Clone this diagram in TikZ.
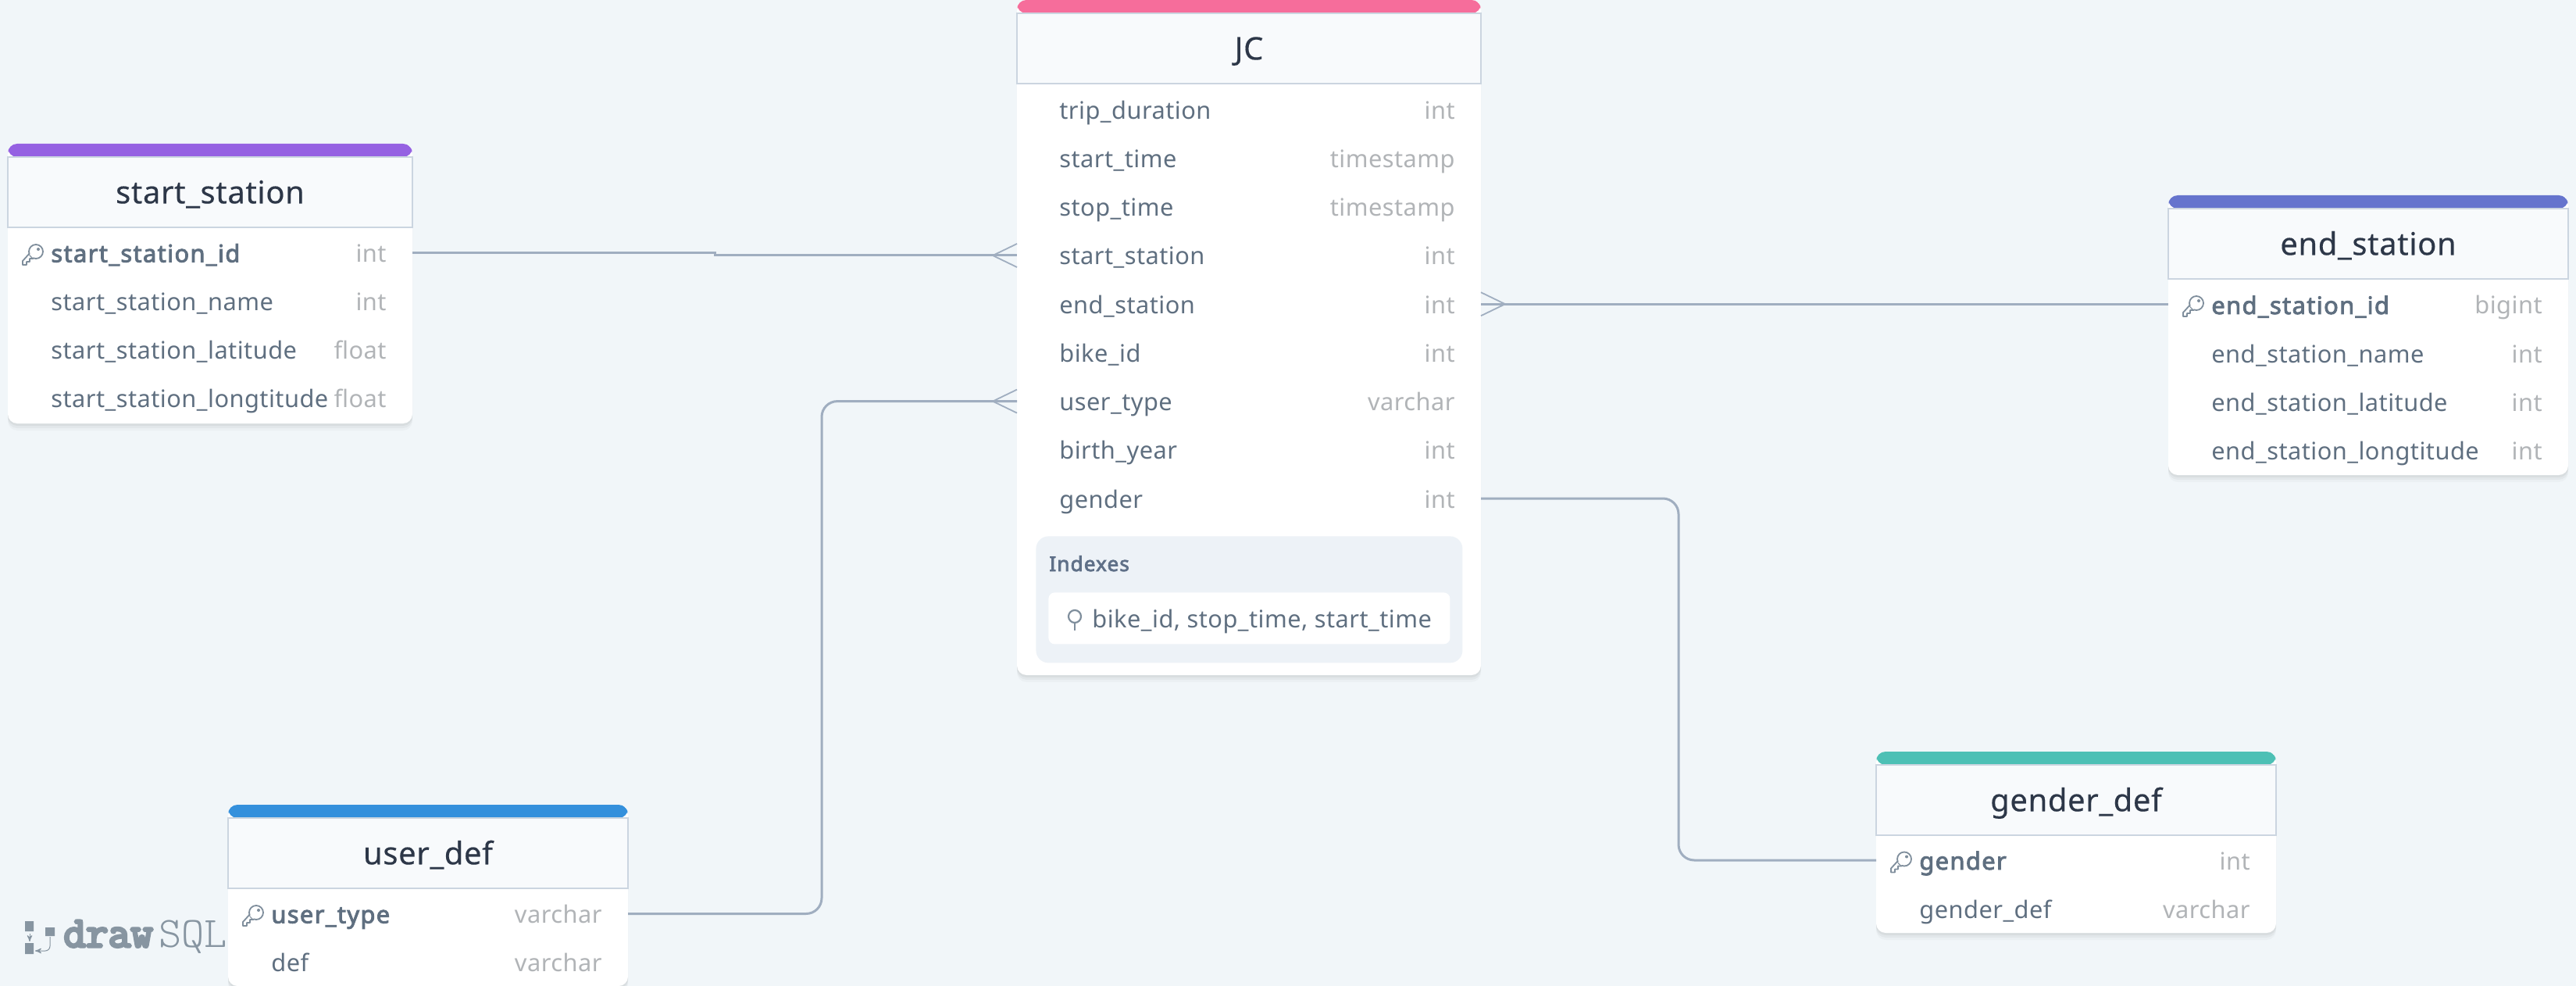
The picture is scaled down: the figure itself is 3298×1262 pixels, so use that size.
\documentclass[tikz,border=0pt]{standalone}
\usepackage{fontspec}
\setmainfont{Noto Sans}[LetterSpace=1.5]
\newfontfamily\titlefont{Noto Sans}[LetterSpace=1.5,FakeBold=.3]
\newfontfamily\keyfont{Noto Sans}[LetterSpace=4.5,FakeBold=3]
\newfontfamily\logofont{Latin Modern Mono}[FakeBold=6]
\usepackage{tikz}
\usetikzlibrary{shadows}
\usetikzlibrary{arrows}
\usetikzlibrary{positioning}
\usepackage{xcolor}
\definecolor{canvasbg}{HTML}{F1F6F9}
\definecolor{purpleband}{HTML}{9561E2}
\definecolor{pinkband}{HTML}{F66D9B}
\definecolor{indigoband}{HTML}{6574CD}
\definecolor{blueband}{HTML}{3490DC}
\definecolor{tealband}{HTML}{4DC0B5}
\definecolor{headfill}{HTML}{F8FAFC}
\definecolor{headline}{HTML}{CBD5E0}
\definecolor{titleink}{HTML}{2D3748}
\definecolor{fieldink}{HTML}{5F6F80}
\definecolor{typeink}{HTML}{B1B4B7}
\definecolor{iconink}{HTML}{7F8E9C}
\definecolor{relink}{HTML}{A0AEC0}
\definecolor{indexfill}{HTML}{EDF2F7}
\definecolor{indexink}{HTML}{5F7088}
\definecolor{logoink}{HTML}{8795A1}
\tikzset{
	tablecard/.style={rectangle,fill=white,rounded corners=6pt,inner sep=0pt,outer sep=0pt,anchor=north west,
		general shadow={shadow xshift=0pt,shadow yshift=-4.5pt,opacity=.025,fill=black},
		general shadow={shadow xshift=0pt,shadow yshift=-3pt,opacity=.035,fill=black},
		general shadow={shadow xshift=0pt,shadow yshift=-1.5pt,opacity=.045,fill=black},
		path picture={\fill[#1] (path picture bounding box.north west) rectangle ([yshift=-8.5pt]path picture bounding box.north east);}},
	tablehead/.style={rectangle,draw=headline,line width=.8pt,fill=headfill,minimum height=45pt,inner sep=0pt,outer sep=0pt,
		text=titleink,font=\fontsize{20}{24}\selectfont\titlefont,text height=14.5pt,text depth=0pt},
	rowbox/.style={rectangle,minimum height=31pt,inner sep=0pt,outer sep=0pt},
	fieldname/.style={anchor=base west,inner sep=0pt,text=fieldink,font=\fontsize{15.4}{18}\selectfont},
	keyname/.style={fieldname,font=\fontsize{15.4}{18}\selectfont\keyfont},
	fieldtype/.style={anchor=base east,inner sep=0pt,text=typeink,font=\fontsize{15.4}{18}\selectfont},
	relation/.style={draw=relink,line width=1.5pt},
	crowfoot/.style={draw=relink,line width=.9pt},
	keyicon/.pic={
		\draw[iconink,line width=.9pt,line join=round,fill=white] (-3,-3) -- (-13,8) -- (-13,13) -- (-8,13) -- (-8,9) -- (-4,9) -- (-4,5) -- (0,5) -- (3,3) -- cycle;
		\draw[iconink,line width=.9pt,fill=white] (4,-4) circle[radius=9];
		\fill[iconink] (7,-7) circle[radius=2];
		\fill[white] (-2,-2) -- (2,2) -- (0,4) -- (-4,0) -- cycle;
	},
	pinicon/.pic={
		\draw[iconink,line width=1.1pt] (0,3) -- (0,13);
		\draw[iconink,line width=1.1pt] (0,-5) circle[radius=8];
	}
}

\begin{document}
\begin{tikzpicture}[x=.5pt,y=-.5pt]
\useasboundingbox (0,0) rectangle (3298,1262);
\fill[canvasbg] (0,0) rectangle (3298,1262);

% logo
\node[anchor=base west,inner sep=0pt,text=logoink,font=\fontsize{27.8}{30}\selectfont\logofont] (logodraw) at (81,1212) {draw};
\node[anchor=base west,inner sep=0pt,text=logoink,font=\fontsize{27.8}{30}\selectfont\ttfamily\fontseries{l}\selectfont] (logosql) at (203,1212) {SQL};
\fill[logoink] (32,1179) rectangle (43,1192) (32,1207) rectangle (43,1221) (58,1187) rectangle (70,1198);
\draw[logoink,line width=.5pt,->,>=stealth'] (38,1195) -- (38,1205);
\draw[logoink,line width=.5pt,->,>=stealth',rounded corners=3pt] (64,1199) -- (64,1217) -- (45,1217);

% start_station
\node[tablecard=purpleband,minimum width=259pt,minimum height=179pt] (SS) at (10,184) {};
\node[tablehead,minimum width=259pt,below=8.4pt of SS.north] (SShead) {start\_station};
\foreach \n/\fld/\typ/\sty in {1/start\_station\_id/int/keyname,2/start\_station\_name/int/fieldname,
	3/start\_station\_latitude/float/fieldname,4/start\_station\_longtitude/float/fieldname} {
	\node[rowbox,minimum width=259pt] (SS\n) at (269,{323.5+(\n-1)*62}) {};
	\node[\sty] (SSf\n) at ([shift={(55,12)}]SS\n.west) {\fld};
	\node[fieldtype] (SSt\n) at ([shift={(-33,12)}]SS\n.east) {\typ};
}
\pic at ([shift={(32,2.5)}]SS1.west) {keyicon};

% JC
\node[tablecard=pinkband,minimum width=297pt,minimum height=432pt] (JC) at (1302,0) {};
\node[tablehead,minimum width=297pt,below=8.4pt of JC.north] (JChead) {JC};
\foreach \n/\fld/\typ in {1/trip\_duration/int,2/start\_time/timestamp,3/stop\_time/timestamp,
	4/start\_station/int,5/end\_station/int,6/bike\_id/int,7/user\_type/varchar,8/birth\_year/int,9/gender/int} {
	\node[rowbox,minimum width=297pt] (JC\n) at (1599,{140.4+(\n-1)*62.2}) {};
	\node[fieldname] (JCf\n) at ([shift={(54,12)}]JC\n.west) {\fld};
	\node[fieldtype] (JCt\n) at ([shift={(-33,12)}]JC\n.east) {\typ};
}
\node[rectangle,fill=indexfill,rounded corners=8pt,minimum width=273pt,minimum height=81pt,inner sep=0pt,anchor=north west] (JCidx) at (1326,686) {};
\node[anchor=base west,inner sep=0pt,text=indexink,font=\fontsize{13}{15}\selectfont\keyfont] (JCidxtitle) at (1343,731) {Indexes};
\node[rectangle,fill=white,rounded corners=4pt,minimum width=257pt,minimum height=33pt,inner sep=0pt,anchor=north west] (JCidxrow) at (1342,758) {};
\node[fieldname] (JCidxname) at (1398,803) {bike\_id, stop\_time, start\_time};
\pic at (1376,794) {pinicon};

% end_station
\node[tablecard=indigoband,minimum width=256pt,minimum height=179pt] (ES) at (2776,250) {};
\node[tablehead,minimum width=256pt,below=8.4pt of ES.north] (EShead) {end\_station};
\foreach \n/\fld/\typ/\sty in {1/end\_station\_id/bigint/keyname,2/end\_station\_name/int/fieldname,
	3/end\_station\_latitude/int/fieldname,4/end\_station\_longtitude/int/fieldname} {
	\node[rowbox,minimum width=256pt] (ES\n) at (3032,{390+(\n-1)*62.2}) {};
	\node[\sty] (ESf\n) at ([shift={(55,12)}]ES\n.west) {\fld};
	\node[fieldtype] (ESt\n) at ([shift={(-33,12)}]ES\n.east) {\typ};
}
\pic at ([shift={(32,2)}]ES1.west) {keyicon};

% user_def
\node[tablecard=blueband,minimum width=256pt,minimum height=116pt] (UD) at (292,1030) {};
\node[tablehead,minimum width=256pt,below=8.4pt of UD.north] (UDhead) {user\_def};
\foreach \n/\fld/\typ/\sty in {1/user\_type/varchar/keyname,2/def/varchar/fieldname} {
	\node[rowbox,minimum width=256pt] (UD\n) at (548,{1169.5+(\n-1)*62}) {};
	\node[\sty] (UDf\n) at ([shift={(55,12)}]UD\n.west) {\fld};
	\node[fieldtype] (UDt\n) at ([shift={(-33,12)}]UD\n.east) {\typ};
}
\pic at ([shift={(32,2.5)}]UD1.west) {keyicon};

% gender_def
\node[tablecard=tealband,minimum width=256pt,minimum height=116pt] (GD) at (2402,962) {};
\node[tablehead,minimum width=256pt,below=8.4pt of GD.north] (GDhead) {gender\_def};
\foreach \n/\fld/\typ/\sty in {1/gender/int/keyname,2/gender\_def/varchar/fieldname} {
	\node[rowbox,minimum width=256pt] (GD\n) at (2658,{1101+(\n-1)*62}) {};
	\node[\sty] (GDf\n) at ([shift={(55,12)}]GD\n.west) {\fld};
	\node[fieldtype] (GDt\n) at ([shift={(-33,12)}]GD\n.east) {\typ};
}
\pic at ([shift={(32,2.5)}]GD1.west) {keyicon};

% relations
\coordinate (stepSS) at (915,400);
\coordinate (elbowUD) at (1052,800);
\coordinate (elbowGD) at (2149,800);
\draw[relation] (SS1.east) -- (SS1.east -| stepSS) -- (stepSS |- JC4.west) -- (JC4.west);
\draw[relation] (JC5.east) -- (JC5.east -| ES1.west);
\draw[relation,rounded corners=10pt] (UD1.east) -- (UD1.east -| elbowUD) -- (elbowUD |- JC7.west) -- (JC7.west);
\draw[relation,rounded corners=10pt] (JC9.east) -- (JC9.east -| elbowGD) -- (elbowGD |- GD1.west) -- (GD1.west);
\draw[crowfoot] ([shift={(0,-15)}]JC4.west) -- ++(-31,15) -- ++(31,15);
\draw[crowfoot] ([shift={(0,-15)}]JC7.west) -- ++(-31,15) -- ++(31,15);
\draw[crowfoot] ([shift={(0,-15)}]JC5.east) -- ++(31,15) -- ++(-31,15);
\end{tikzpicture}
\end{document}
